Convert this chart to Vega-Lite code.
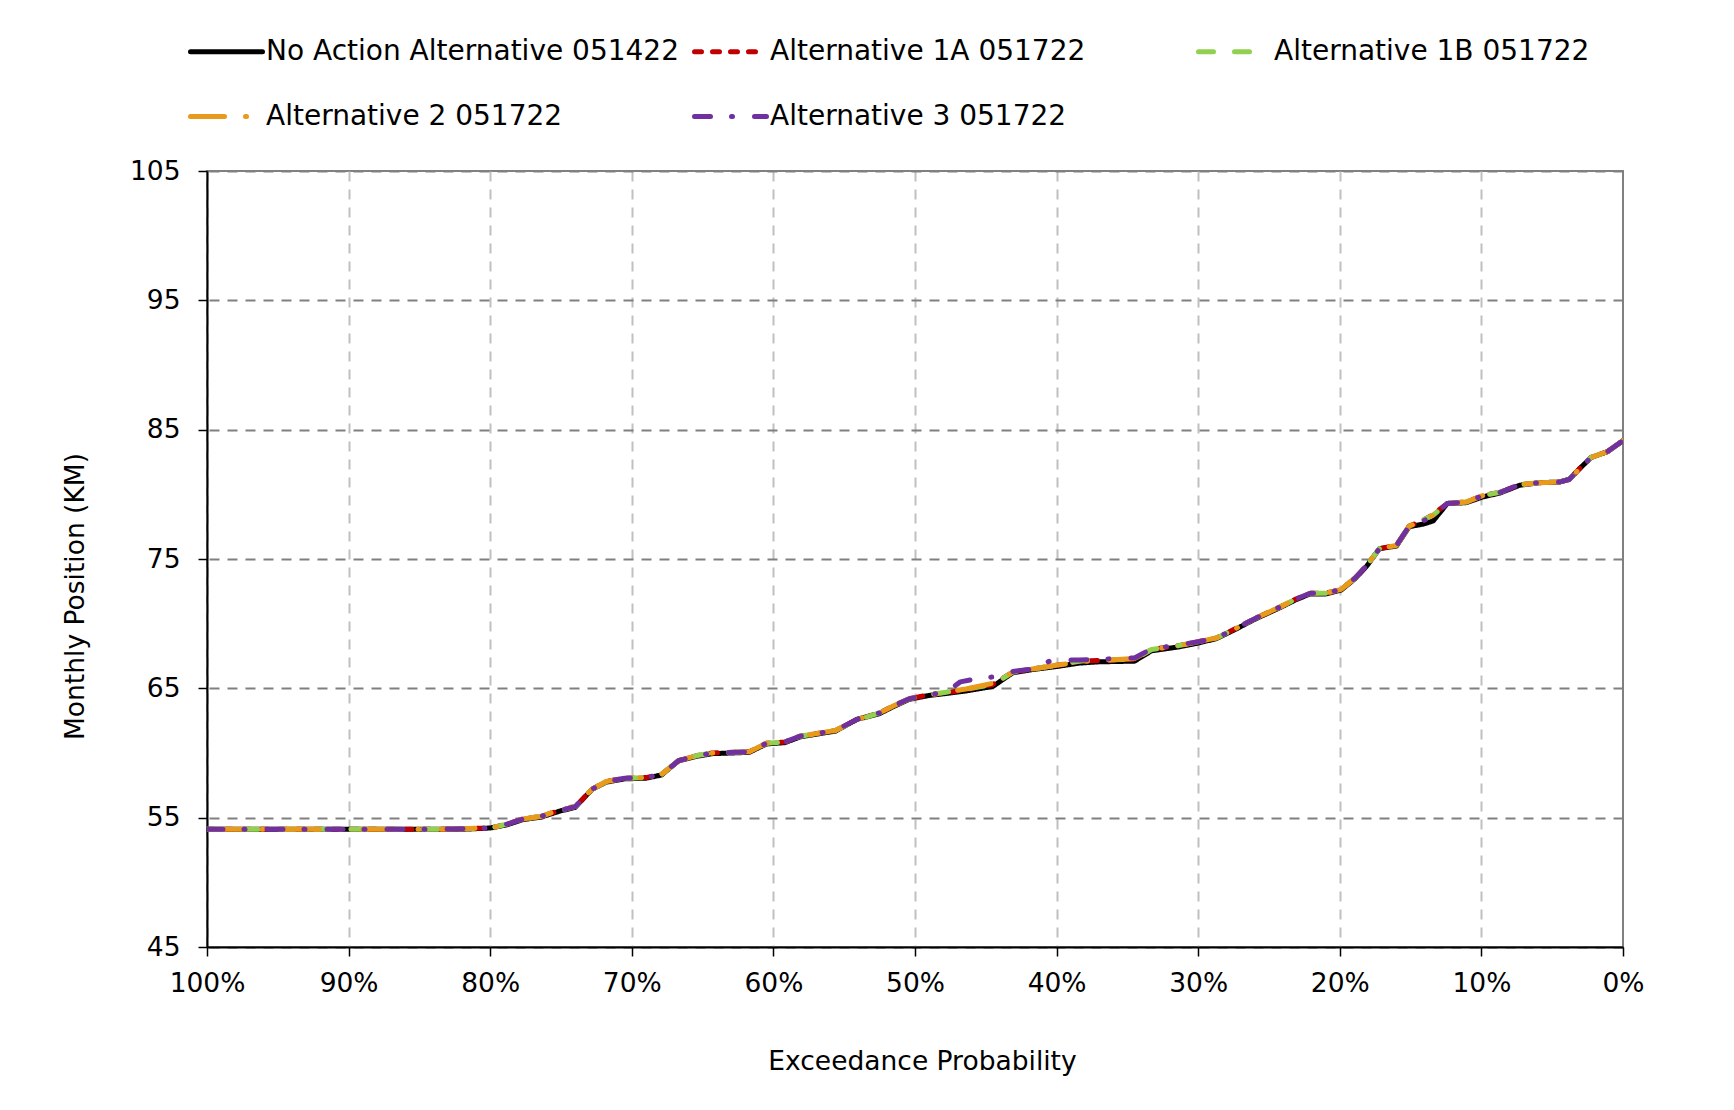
{
  "$schema": "https://vega.github.io/schema/vega-lite/v6.json",
  "width": 1416,
  "height": 776,
  "autosize": "none",
  "padding": {"left": 207, "top": 171, "right": 111, "bottom": 163},
  "background": "white",
  "data": {"values": [
    {"s":"No Action Alternative 051422","p":100,"v":54.1},{"s":"No Action Alternative 051422","p":96,"v":54.1},{"s":"No Action Alternative 051422","p":92,"v":54.1},{"s":"No Action Alternative 051422","p":88,"v":54.1},{"s":"No Action Alternative 051422","p":84,"v":54.1},{"s":"No Action Alternative 051422","p":82,"v":54.1},{"s":"No Action Alternative 051422","p":80,"v":54.2},{"s":"No Action Alternative 051422","p":78.8,"v":54.45},{"s":"No Action Alternative 051422","p":77.7,"v":54.85},{"s":"No Action Alternative 051422","p":76.4,"v":55.05},{"s":"No Action Alternative 051422","p":75.1,"v":55.5},{"s":"No Action Alternative 051422","p":74.0,"v":55.8},{"s":"No Action Alternative 051422","p":72.8,"v":57.2},{"s":"No Action Alternative 051422","p":71.8,"v":57.75},{"s":"No Action Alternative 051422","p":70.5,"v":58.0},{"s":"No Action Alternative 051422","p":69.0,"v":58.05},{"s":"No Action Alternative 051422","p":67.9,"v":58.3},{"s":"No Action Alternative 051422","p":66.7,"v":59.4},{"s":"No Action Alternative 051422","p":65.4,"v":59.75},{"s":"No Action Alternative 051422","p":64.3,"v":59.95},{"s":"No Action Alternative 051422","p":61.7,"v":60.05},{"s":"No Action Alternative 051422","p":60.5,"v":60.7},{"s":"No Action Alternative 051422","p":59.2,"v":60.8},{"s":"No Action Alternative 051422","p":58.1,"v":61.25},{"s":"No Action Alternative 051422","p":55.6,"v":61.7},{"s":"No Action Alternative 051422","p":54.1,"v":62.6},{"s":"No Action Alternative 051422","p":52.5,"v":63.05},{"s":"No Action Alternative 051422","p":51.5,"v":63.6},{"s":"No Action Alternative 051422","p":50.4,"v":64.15},{"s":"No Action Alternative 051422","p":49.0,"v":64.45},{"s":"No Action Alternative 051422","p":47.8,"v":64.6},{"s":"No Action Alternative 051422","p":46.4,"v":64.8},{"s":"No Action Alternative 051422","p":44.5,"v":65.15},{"s":"No Action Alternative 051422","p":43.1,"v":66.2},{"s":"No Action Alternative 051422","p":41.7,"v":66.45},{"s":"No Action Alternative 051422","p":39.9,"v":66.7},{"s":"No Action Alternative 051422","p":38.4,"v":66.95},{"s":"No Action Alternative 051422","p":37.0,"v":67.05},{"s":"No Action Alternative 051422","p":34.5,"v":67.1},{"s":"No Action Alternative 051422","p":33.3,"v":67.9},{"s":"No Action Alternative 051422","p":31.4,"v":68.2},{"s":"No Action Alternative 051422","p":30.0,"v":68.5},{"s":"No Action Alternative 051422","p":28.7,"v":68.85},{"s":"No Action Alternative 051422","p":27.3,"v":69.6},{"s":"No Action Alternative 051422","p":25.9,"v":70.4},{"s":"No Action Alternative 051422","p":24.3,"v":71.2},{"s":"No Action Alternative 051422","p":23.1,"v":71.85},{"s":"No Action Alternative 051422","p":22.1,"v":72.3},{"s":"No Action Alternative 051422","p":21.0,"v":72.3},{"s":"No Action Alternative 051422","p":19.9,"v":72.6},{"s":"No Action Alternative 051422","p":18.9,"v":73.5},{"s":"No Action Alternative 051422","p":18.1,"v":74.45},{"s":"No Action Alternative 051422","p":17.2,"v":75.8},{"s":"No Action Alternative 051422","p":16.0,"v":76.0},{"s":"No Action Alternative 051422","p":15.1,"v":77.5},{"s":"No Action Alternative 051422","p":14.1,"v":77.7},{"s":"No Action Alternative 051422","p":13.4,"v":77.95},{"s":"No Action Alternative 051422","p":12.4,"v":79.3},{"s":"No Action Alternative 051422","p":11.1,"v":79.35},{"s":"No Action Alternative 051422","p":9.9,"v":79.8},{"s":"No Action Alternative 051422","p":8.7,"v":80.1},{"s":"No Action Alternative 051422","p":7.3,"v":80.7},{"s":"No Action Alternative 051422","p":5.9,"v":80.9},{"s":"No Action Alternative 051422","p":4.5,"v":80.95},{"s":"No Action Alternative 051422","p":3.8,"v":81.15},{"s":"No Action Alternative 051422","p":3.1,"v":81.95},{"s":"No Action Alternative 051422","p":2.25,"v":82.85},{"s":"No Action Alternative 051422","p":1.1,"v":83.3},{"s":"No Action Alternative 051422","p":0,"v":84.15},

    {"s":"Alternative 1A 051722","p":100,"v":54.1},{"s":"Alternative 1A 051722","p":96,"v":54.1},{"s":"Alternative 1A 051722","p":92,"v":54.1},{"s":"Alternative 1A 051722","p":88,"v":54.1},{"s":"Alternative 1A 051722","p":84,"v":54.1},{"s":"Alternative 1A 051722","p":82,"v":54.15},{"s":"Alternative 1A 051722","p":80,"v":54.2},{"s":"Alternative 1A 051722","p":78.8,"v":54.5},{"s":"Alternative 1A 051722","p":77.7,"v":54.9},{"s":"Alternative 1A 051722","p":76.4,"v":55.1},{"s":"Alternative 1A 051722","p":75.1,"v":55.55},{"s":"Alternative 1A 051722","p":74.0,"v":55.85},{"s":"Alternative 1A 051722","p":72.8,"v":57.2},{"s":"Alternative 1A 051722","p":71.8,"v":57.8},{"s":"Alternative 1A 051722","p":70.5,"v":58.05},{"s":"Alternative 1A 051722","p":69.0,"v":58.1},{"s":"Alternative 1A 051722","p":67.9,"v":58.35},{"s":"Alternative 1A 051722","p":66.7,"v":59.4},{"s":"Alternative 1A 051722","p":65.4,"v":59.8},{"s":"Alternative 1A 051722","p":64.3,"v":60.0},{"s":"Alternative 1A 051722","p":61.7,"v":60.1},{"s":"Alternative 1A 051722","p":60.5,"v":60.75},{"s":"Alternative 1A 051722","p":59.2,"v":60.85},{"s":"Alternative 1A 051722","p":58.1,"v":61.3},{"s":"Alternative 1A 051722","p":55.6,"v":61.75},{"s":"Alternative 1A 051722","p":54.1,"v":62.6},{"s":"Alternative 1A 051722","p":52.5,"v":63.1},{"s":"Alternative 1A 051722","p":51.5,"v":63.65},{"s":"Alternative 1A 051722","p":50.4,"v":64.2},{"s":"Alternative 1A 051722","p":49.0,"v":64.5},{"s":"Alternative 1A 051722","p":47.8,"v":64.65},{"s":"Alternative 1A 051722","p":46.4,"v":64.9},{"s":"Alternative 1A 051722","p":44.5,"v":65.3},{"s":"Alternative 1A 051722","p":43.1,"v":66.25},{"s":"Alternative 1A 051722","p":41.7,"v":66.5},{"s":"Alternative 1A 051722","p":39.9,"v":66.8},{"s":"Alternative 1A 051722","p":38.4,"v":67.1},{"s":"Alternative 1A 051722","p":37.0,"v":67.15},{"s":"Alternative 1A 051722","p":34.5,"v":67.25},{"s":"Alternative 1A 051722","p":33.3,"v":68.0},{"s":"Alternative 1A 051722","p":31.4,"v":68.3},{"s":"Alternative 1A 051722","p":30.0,"v":68.6},{"s":"Alternative 1A 051722","p":28.7,"v":68.9},{"s":"Alternative 1A 051722","p":27.3,"v":69.65},{"s":"Alternative 1A 051722","p":25.9,"v":70.45},{"s":"Alternative 1A 051722","p":24.3,"v":71.25},{"s":"Alternative 1A 051722","p":23.1,"v":71.9},{"s":"Alternative 1A 051722","p":22.1,"v":72.35},{"s":"Alternative 1A 051722","p":21.0,"v":72.35},{"s":"Alternative 1A 051722","p":19.9,"v":72.65},{"s":"Alternative 1A 051722","p":18.9,"v":73.55},{"s":"Alternative 1A 051722","p":18.1,"v":74.5},{"s":"Alternative 1A 051722","p":17.2,"v":75.8},{"s":"Alternative 1A 051722","p":16.0,"v":76.05},{"s":"Alternative 1A 051722","p":15.1,"v":77.55},{"s":"Alternative 1A 051722","p":14.1,"v":78.0},{"s":"Alternative 1A 051722","p":13.4,"v":78.45},{"s":"Alternative 1A 051722","p":12.4,"v":79.3},{"s":"Alternative 1A 051722","p":11.1,"v":79.4},{"s":"Alternative 1A 051722","p":9.9,"v":79.9},{"s":"Alternative 1A 051722","p":8.7,"v":80.15},{"s":"Alternative 1A 051722","p":7.3,"v":80.75},{"s":"Alternative 1A 051722","p":5.9,"v":80.9},{"s":"Alternative 1A 051722","p":4.5,"v":80.95},{"s":"Alternative 1A 051722","p":3.8,"v":81.15},{"s":"Alternative 1A 051722","p":3.1,"v":81.95},{"s":"Alternative 1A 051722","p":2.25,"v":82.85},{"s":"Alternative 1A 051722","p":1.1,"v":83.3},{"s":"Alternative 1A 051722","p":0,"v":84.15},

    {"s":"Alternative 1B 051722","p":100,"v":54.1},{"s":"Alternative 1B 051722","p":96,"v":54.1},{"s":"Alternative 1B 051722","p":92,"v":54.1},{"s":"Alternative 1B 051722","p":88,"v":54.1},{"s":"Alternative 1B 051722","p":84,"v":54.1},{"s":"Alternative 1B 051722","p":82,"v":54.15},{"s":"Alternative 1B 051722","p":80,"v":54.2},{"s":"Alternative 1B 051722","p":78.8,"v":54.5},{"s":"Alternative 1B 051722","p":77.7,"v":54.9},{"s":"Alternative 1B 051722","p":76.4,"v":55.1},{"s":"Alternative 1B 051722","p":75.1,"v":55.55},{"s":"Alternative 1B 051722","p":74.0,"v":55.85},{"s":"Alternative 1B 051722","p":72.8,"v":57.2},{"s":"Alternative 1B 051722","p":71.8,"v":57.8},{"s":"Alternative 1B 051722","p":70.5,"v":58.05},{"s":"Alternative 1B 051722","p":69.0,"v":58.1},{"s":"Alternative 1B 051722","p":67.9,"v":58.35},{"s":"Alternative 1B 051722","p":66.7,"v":59.4},{"s":"Alternative 1B 051722","p":65.4,"v":59.8},{"s":"Alternative 1B 051722","p":64.3,"v":60.0},{"s":"Alternative 1B 051722","p":61.7,"v":60.1},{"s":"Alternative 1B 051722","p":60.5,"v":60.75},{"s":"Alternative 1B 051722","p":59.2,"v":60.85},{"s":"Alternative 1B 051722","p":58.1,"v":61.3},{"s":"Alternative 1B 051722","p":55.6,"v":61.75},{"s":"Alternative 1B 051722","p":54.1,"v":62.55},{"s":"Alternative 1B 051722","p":52.5,"v":63.1},{"s":"Alternative 1B 051722","p":51.5,"v":63.65},{"s":"Alternative 1B 051722","p":50.4,"v":64.2},{"s":"Alternative 1B 051722","p":49.0,"v":64.5},{"s":"Alternative 1B 051722","p":47.8,"v":64.7},{"s":"Alternative 1B 051722","p":46.4,"v":64.95},{"s":"Alternative 1B 051722","p":44.5,"v":65.3},{"s":"Alternative 1B 051722","p":43.1,"v":66.25},{"s":"Alternative 1B 051722","p":41.7,"v":66.5},{"s":"Alternative 1B 051722","p":39.9,"v":66.8},{"s":"Alternative 1B 051722","p":38.4,"v":67.1},{"s":"Alternative 1B 051722","p":37.0,"v":67.2},{"s":"Alternative 1B 051722","p":34.5,"v":67.25},{"s":"Alternative 1B 051722","p":33.3,"v":68.0},{"s":"Alternative 1B 051722","p":31.4,"v":68.3},{"s":"Alternative 1B 051722","p":30.0,"v":68.6},{"s":"Alternative 1B 051722","p":28.7,"v":68.9},{"s":"Alternative 1B 051722","p":27.3,"v":69.65},{"s":"Alternative 1B 051722","p":25.9,"v":70.45},{"s":"Alternative 1B 051722","p":24.3,"v":71.25},{"s":"Alternative 1B 051722","p":23.1,"v":71.9},{"s":"Alternative 1B 051722","p":22.1,"v":72.35},{"s":"Alternative 1B 051722","p":21.0,"v":72.35},{"s":"Alternative 1B 051722","p":19.9,"v":72.65},{"s":"Alternative 1B 051722","p":18.9,"v":73.55},{"s":"Alternative 1B 051722","p":18.1,"v":74.5},{"s":"Alternative 1B 051722","p":17.2,"v":75.8},{"s":"Alternative 1B 051722","p":16.0,"v":76.05},{"s":"Alternative 1B 051722","p":15.1,"v":77.55},{"s":"Alternative 1B 051722","p":14.1,"v":78.05},{"s":"Alternative 1B 051722","p":13.4,"v":78.4},{"s":"Alternative 1B 051722","p":12.4,"v":79.3},{"s":"Alternative 1B 051722","p":11.1,"v":79.4},{"s":"Alternative 1B 051722","p":9.9,"v":79.9},{"s":"Alternative 1B 051722","p":8.7,"v":80.15},{"s":"Alternative 1B 051722","p":7.3,"v":80.75},{"s":"Alternative 1B 051722","p":5.9,"v":80.9},{"s":"Alternative 1B 051722","p":4.5,"v":80.95},{"s":"Alternative 1B 051722","p":3.8,"v":81.15},{"s":"Alternative 1B 051722","p":3.1,"v":81.95},{"s":"Alternative 1B 051722","p":2.25,"v":82.85},{"s":"Alternative 1B 051722","p":1.1,"v":83.3},{"s":"Alternative 1B 051722","p":0,"v":84.15},

    {"s":"Alternative 2 051722","p":100,"v":54.1},{"s":"Alternative 2 051722","p":96,"v":54.1},{"s":"Alternative 2 051722","p":92,"v":54.1},{"s":"Alternative 2 051722","p":88,"v":54.1},{"s":"Alternative 2 051722","p":84,"v":54.1},{"s":"Alternative 2 051722","p":82,"v":54.15},{"s":"Alternative 2 051722","p":80,"v":54.2},{"s":"Alternative 2 051722","p":78.8,"v":54.5},{"s":"Alternative 2 051722","p":77.7,"v":54.9},{"s":"Alternative 2 051722","p":76.4,"v":55.1},{"s":"Alternative 2 051722","p":75.1,"v":55.6},{"s":"Alternative 2 051722","p":74.0,"v":55.9},{"s":"Alternative 2 051722","p":72.8,"v":57.2},{"s":"Alternative 2 051722","p":71.8,"v":57.8},{"s":"Alternative 2 051722","p":70.5,"v":58.05},{"s":"Alternative 2 051722","p":69.0,"v":58.1},{"s":"Alternative 2 051722","p":67.9,"v":58.35},{"s":"Alternative 2 051722","p":66.7,"v":59.4},{"s":"Alternative 2 051722","p":65.4,"v":59.8},{"s":"Alternative 2 051722","p":64.3,"v":60.0},{"s":"Alternative 2 051722","p":61.7,"v":60.1},{"s":"Alternative 2 051722","p":60.5,"v":60.75},{"s":"Alternative 2 051722","p":59.2,"v":60.85},{"s":"Alternative 2 051722","p":58.1,"v":61.3},{"s":"Alternative 2 051722","p":55.6,"v":61.75},{"s":"Alternative 2 051722","p":54.1,"v":62.6},{"s":"Alternative 2 051722","p":52.5,"v":63.1},{"s":"Alternative 2 051722","p":51.5,"v":63.65},{"s":"Alternative 2 051722","p":50.4,"v":64.2},{"s":"Alternative 2 051722","p":49.0,"v":64.5},{"s":"Alternative 2 051722","p":47.8,"v":64.7},{"s":"Alternative 2 051722","p":46.4,"v":64.95},{"s":"Alternative 2 051722","p":44.5,"v":65.4},{"s":"Alternative 2 051722","p":43.1,"v":66.25},{"s":"Alternative 2 051722","p":41.7,"v":66.5},{"s":"Alternative 2 051722","p":39.9,"v":66.8},{"s":"Alternative 2 051722","p":38.4,"v":67.05},{"s":"Alternative 2 051722","p":37.0,"v":67.15},{"s":"Alternative 2 051722","p":34.5,"v":67.3},{"s":"Alternative 2 051722","p":33.3,"v":68.0},{"s":"Alternative 2 051722","p":31.4,"v":68.3},{"s":"Alternative 2 051722","p":30.0,"v":68.6},{"s":"Alternative 2 051722","p":28.7,"v":68.9},{"s":"Alternative 2 051722","p":27.3,"v":69.65},{"s":"Alternative 2 051722","p":25.9,"v":70.45},{"s":"Alternative 2 051722","p":24.3,"v":71.25},{"s":"Alternative 2 051722","p":23.1,"v":71.9},{"s":"Alternative 2 051722","p":22.1,"v":72.35},{"s":"Alternative 2 051722","p":21.0,"v":72.35},{"s":"Alternative 2 051722","p":19.9,"v":72.65},{"s":"Alternative 2 051722","p":18.9,"v":73.55},{"s":"Alternative 2 051722","p":18.1,"v":74.5},{"s":"Alternative 2 051722","p":17.2,"v":75.8},{"s":"Alternative 2 051722","p":16.0,"v":76.05},{"s":"Alternative 2 051722","p":15.1,"v":77.55},{"s":"Alternative 2 051722","p":14.1,"v":77.95},{"s":"Alternative 2 051722","p":13.4,"v":78.4},{"s":"Alternative 2 051722","p":12.4,"v":79.3},{"s":"Alternative 2 051722","p":11.1,"v":79.4},{"s":"Alternative 2 051722","p":9.9,"v":79.9},{"s":"Alternative 2 051722","p":8.7,"v":80.15},{"s":"Alternative 2 051722","p":7.3,"v":80.75},{"s":"Alternative 2 051722","p":5.9,"v":80.9},{"s":"Alternative 2 051722","p":4.5,"v":80.95},{"s":"Alternative 2 051722","p":3.8,"v":81.15},{"s":"Alternative 2 051722","p":3.1,"v":81.95},{"s":"Alternative 2 051722","p":2.25,"v":82.85},{"s":"Alternative 2 051722","p":1.1,"v":83.3},{"s":"Alternative 2 051722","p":0,"v":84.15},

    {"s":"Alternative 3 051722","p":100,"v":54.1},{"s":"Alternative 3 051722","p":96,"v":54.1},{"s":"Alternative 3 051722","p":92,"v":54.1},{"s":"Alternative 3 051722","p":88,"v":54.1},{"s":"Alternative 3 051722","p":84,"v":54.1},{"s":"Alternative 3 051722","p":82,"v":54.15},{"s":"Alternative 3 051722","p":80,"v":54.2},{"s":"Alternative 3 051722","p":78.8,"v":54.5},{"s":"Alternative 3 051722","p":77.7,"v":54.9},{"s":"Alternative 3 051722","p":76.4,"v":55.1},{"s":"Alternative 3 051722","p":75.1,"v":55.55},{"s":"Alternative 3 051722","p":74.0,"v":55.85},{"s":"Alternative 3 051722","p":72.8,"v":57.2},{"s":"Alternative 3 051722","p":71.8,"v":57.8},{"s":"Alternative 3 051722","p":70.5,"v":58.05},{"s":"Alternative 3 051722","p":69.0,"v":58.1},{"s":"Alternative 3 051722","p":67.9,"v":58.35},{"s":"Alternative 3 051722","p":66.7,"v":59.4},{"s":"Alternative 3 051722","p":65.4,"v":59.8},{"s":"Alternative 3 051722","p":64.3,"v":60.0},{"s":"Alternative 3 051722","p":61.7,"v":60.1},{"s":"Alternative 3 051722","p":60.5,"v":60.75},{"s":"Alternative 3 051722","p":59.2,"v":60.85},{"s":"Alternative 3 051722","p":58.1,"v":61.3},{"s":"Alternative 3 051722","p":55.6,"v":61.75},{"s":"Alternative 3 051722","p":54.1,"v":62.6},{"s":"Alternative 3 051722","p":52.5,"v":63.1},{"s":"Alternative 3 051722","p":51.5,"v":63.65},{"s":"Alternative 3 051722","p":50.4,"v":64.2},{"s":"Alternative 3 051722","p":49.0,"v":64.5},{"s":"Alternative 3 051722","p":47.8,"v":64.7},{"s":"Alternative 3 051722","p":46.8,"v":65.5},{"s":"Alternative 3 051722","p":45.4,"v":65.8},{"s":"Alternative 3 051722","p":44.2,"v":65.9},{"s":"Alternative 3 051722","p":43.1,"v":66.3},{"s":"Alternative 3 051722","p":41.7,"v":66.5},{"s":"Alternative 3 051722","p":40.4,"v":67.15},{"s":"Alternative 3 051722","p":38.4,"v":67.2},{"s":"Alternative 3 051722","p":37.0,"v":67.25},{"s":"Alternative 3 051722","p":34.5,"v":67.35},{"s":"Alternative 3 051722","p":33.3,"v":68.05},{"s":"Alternative 3 051722","p":31.4,"v":68.35},{"s":"Alternative 3 051722","p":30.0,"v":68.6},{"s":"Alternative 3 051722","p":28.7,"v":68.9},{"s":"Alternative 3 051722","p":27.3,"v":69.65},{"s":"Alternative 3 051722","p":25.9,"v":70.45},{"s":"Alternative 3 051722","p":24.3,"v":71.25},{"s":"Alternative 3 051722","p":23.1,"v":71.9},{"s":"Alternative 3 051722","p":22.1,"v":72.35},{"s":"Alternative 3 051722","p":21.0,"v":72.35},{"s":"Alternative 3 051722","p":19.9,"v":72.65},{"s":"Alternative 3 051722","p":18.9,"v":73.55},{"s":"Alternative 3 051722","p":18.1,"v":74.5},{"s":"Alternative 3 051722","p":17.2,"v":75.8},{"s":"Alternative 3 051722","p":16.0,"v":76.05},{"s":"Alternative 3 051722","p":15.1,"v":77.55},{"s":"Alternative 3 051722","p":14.1,"v":77.95},{"s":"Alternative 3 051722","p":13.4,"v":78.35},{"s":"Alternative 3 051722","p":12.4,"v":79.3},{"s":"Alternative 3 051722","p":11.1,"v":79.4},{"s":"Alternative 3 051722","p":9.9,"v":79.9},{"s":"Alternative 3 051722","p":8.7,"v":80.15},{"s":"Alternative 3 051722","p":7.3,"v":80.75},{"s":"Alternative 3 051722","p":5.9,"v":80.9},{"s":"Alternative 3 051722","p":4.5,"v":80.95},{"s":"Alternative 3 051722","p":3.8,"v":81.15},{"s":"Alternative 3 051722","p":3.1,"v":81.95},{"s":"Alternative 3 051722","p":2.25,"v":82.85},{"s":"Alternative 3 051722","p":1.1,"v":83.3},{"s":"Alternative 3 051722","p":0,"v":84.15}
  ]},
  "mark": {"type": "line", "strokeWidth": 5, "strokeCap": "round", "strokeJoin": "round", "clip": true},
  "encoding": {
    "x": {
      "field": "p", "type": "quantitative",
      "scale": {"domain": [0, 100], "reverse": true, "nice": false},
      "axis": {
        "values": [0, 10, 20, 30, 40, 50, 60, 70, 80, 90, 100],
        "labelExpr": "datum.value + '%'",
        "labelFlush": false,
        "title": "Exceedance Probability",
        "titlePadding": 52,
        "titleX": 715,
        "labelPadding": 14,
        "gridColor": {"condition": {"test": "datum.value === 0", "value": "rgba(0,0,0,0)"}, "value": "#C0C0C0"}
      }
    },
    "y": {
      "field": "v", "type": "quantitative",
      "scale": {"domain": [45, 105], "nice": false, "zero": false},
      "axis": {
        "values": [45, 55, 65, 75, 85, 95, 105],
        "title": "Monthly Position (KM)",
        "titlePadding": 40,
        "titleY": 425,
        "labelPadding": 18,
        "labelFlush": false,
        "gridColor": "#808080"
      }
    },
    "color": {
      "field": "s", "type": "nominal",
      "scale": {
        "domain": ["No Action Alternative 051422", "Alternative 1A 051722", "Alternative 1B 051722", "Alternative 2 051722", "Alternative 3 051722"],
        "range": ["#000000", "#C00000", "#92D050", "#E89A1A", "#7030A0"]
      },
      "legend": {"title": null, "encoding": {"symbols": {"strokeCap": {"value": "round"}}}}
    },
    "strokeDash": {
      "field": "s", "type": "nominal",
      "scale": {
        "domain": ["No Action Alternative 051422", "Alternative 1A 051722", "Alternative 1B 051722", "Alternative 2 051722", "Alternative 3 051722"],
        "range": [[1, 0], [7, 11], [15, 21], [34, 21, 1, 22], [16, 21, 1, 22]]
      },
      "legend": {"title": null, "encoding": {"symbols": {"strokeCap": {"value": "round"}}}}
    }
  },
  "config": {
    "font": "DejaVu Sans",
    "view": {"stroke": "#808080", "strokeWidth": 2},
    "axis": {
      "domainColor": "#000000",
      "domainWidth": 2,
      "tickColor": "#000000",
      "tickSize": 9,
      "tickWidth": 1.5,
      "labelFontSize": 26.5,
      "labelColor": "#000000",
      "titleFontSize": 26.5,
      "titleFontWeight": "normal",
      "titleColor": "#000000",
      "gridDash": [10, 8],
      "gridWidth": 2
    },
    "legend": {
      "orient": "none",
      "direction": "horizontal",
      "legendX": -19,
      "legendY": -158,
      "columns": 3,
      "gridAlign": "all",
      "columnPadding": 5,
      "rowPadding": 12,
      "symbolType": "stroke",
      "symbolSize": 5184,
      "symbolStrokeWidth": 5,
      "labelFontSize": 28,
      "labelColor": "#000000",
      "labelOffset": 1,
      "labelLimit": 0
    }
  }
}
